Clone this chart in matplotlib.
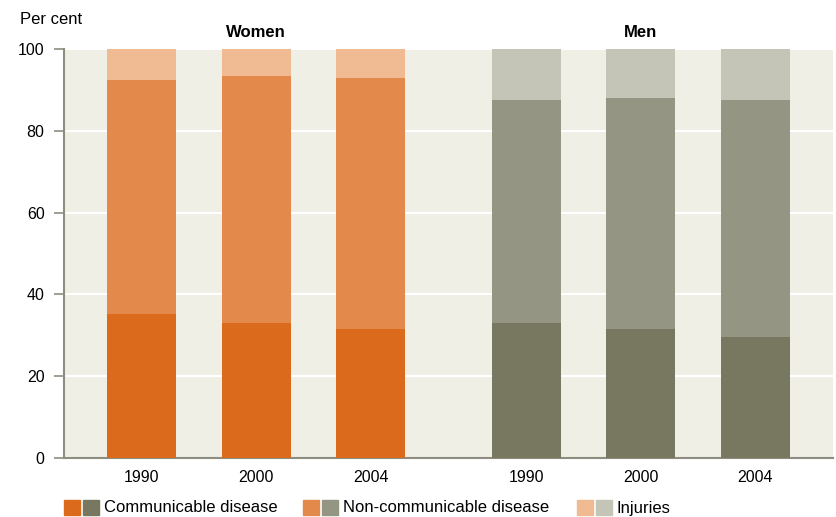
import matplotlib
matplotlib.use("Agg")
import matplotlib.pyplot as plt
import numpy as np
from matplotlib.patches import Rectangle

years = ["1990", "2000", "2004"]
women_comm = [35.2, 33.0, 31.5]
women_noncomm = [57.2, 60.4, 61.4]
women_inj = [7.6, 6.6, 7.1]
men_comm = [33.0, 31.5, 29.6]
men_noncomm = [54.5, 56.5, 57.9]
men_inj = [12.5, 12.0, 12.5]
labels = ["Communicable disease", "Non-communicable disease", "Injuries"]

w_colors = ["#DC6A1C", "#E3894C", "#F0BA93"]
m_colors = ["#787861", "#949582", "#C4C5B6"]

plt.rcParams['font.family'] = ['Liberation Sans', 'DejaVu Sans']

W, H = 837, 517
fig = plt.figure(figsize=(W / 100, H / 100), dpi=100)
ax = fig.add_axes([64 / W, 1 - 458 / H, (833 - 64) / W, (458 - 49) / H])
ax.set_facecolor("#EFEFE6")

xw = np.arange(3)
xm = np.arange(3) + 3.36
bw = 0.6

ax.bar(xw, women_comm, bw, color=w_colors[0], zorder=3)
ax.bar(xw, women_noncomm, bw, bottom=women_comm, color=w_colors[1], zorder=3)
ax.bar(xw, women_inj, bw, bottom=np.add(women_comm, women_noncomm), color=w_colors[2], zorder=3)
ax.bar(xm, men_comm, bw, color=m_colors[0], zorder=3)
ax.bar(xm, men_noncomm, bw, bottom=men_comm, color=m_colors[1], zorder=3)
ax.bar(xm, men_inj, bw, bottom=np.add(men_comm, men_noncomm), color=m_colors[2], zorder=3)

ax.set_xlim(-0.68, 6.04)
ax.set_ylim(0, 100)
ax.set_yticks([0, 20, 40, 60, 80, 100])
ax.yaxis.grid(True, color="white", linewidth=1.5, zorder=1)
ax.set_axisbelow(True)
ax.set_xticks(list(xw) + list(xm))
ax.set_xticklabels(years + years)
ax.tick_params(axis='x', length=0, labelsize=11.5, pad=9)
ax.tick_params(axis='y', length=7, width=1.2, color="#8E8E80", labelsize=11.5, pad=7)
for s in ["top", "right"]:
    ax.spines[s].set_visible(False)
ax.spines["left"].set_color("#8E8E80")
ax.spines["left"].set_linewidth(1.5)
ax.spines["bottom"].set_color("#8E8E80")
ax.spines["bottom"].set_linewidth(1.5)

ax.text(1, 102.3, "Women", ha="center", va="bottom", fontsize=12, fontweight="bold")
ax.text(4.36, 102.3, "Men", ha="center", va="bottom", fontsize=12, fontweight="bold")
fig.text(20 / W, 1 - 20 / H, "Per cent", ha="left", va="center", fontsize=12)

# legend (manual placement)
leg_x = [64, 303, 577]
sq_w, sq_h, gap = 16, 15, 3
y0 = 500
for i, lab in enumerate(labels):
    x = leg_x[i]
    fig.add_artist(Rectangle((x / W, 1 - (y0 + sq_h) / H), sq_w / W, sq_h / H,
                             transform=fig.transFigure, color=w_colors[i]))
    fig.add_artist(Rectangle(((x + sq_w + gap) / W, 1 - (y0 + sq_h) / H), sq_w / W, sq_h / H,
                             transform=fig.transFigure, color=m_colors[i]))
    fig.text((x + 2 * sq_w + gap + 5) / W, 1 - (y0 + sq_h / 2 + 0.5) / H, lab,
             ha="left", va="center", fontsize=12)

fig.savefig("out.png", dpi=100)
